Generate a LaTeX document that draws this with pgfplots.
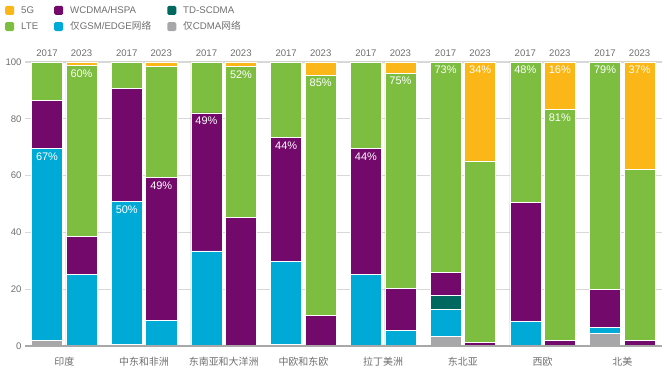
\documentclass[border=0pt]{standalone}
\usepackage{fontspec}
\setmainfont{Liberation Sans}
\newfontfamily\cjk{Noto Sans CJK SC}
\usepackage{pgfplots}
\pgfplotsset{compat=1.18}
\usepackage{pgfplotstable}

\definecolor{c5g}{HTML}{FBB718}
\definecolor{clte}{HTML}{7DBE41}
\definecolor{cwcdma}{HTML}{730A6B}
\definecolor{ctd}{HTML}{00695F}
\definecolor{cgsm}{HTML}{00AAD6}
\definecolor{ccdma}{HTML}{A7A7A9}
\definecolor{txt}{HTML}{6E6E6E}
\definecolor{gridc}{HTML}{D8D8D8}
\definecolor{axl}{HTML}{A8A8A8}

\tikzset{pl/.style={anchor=north, yshift=-4bp, inner sep=0pt, text=white, font=\fontsize{11}{13}\selectfont},
  yl/.style={anchor=base, yshift=5.3bp, inner sep=0pt, text=txt, font=\fontsize{9.6}{11}\selectfont}}

\pgfplotstableread{
x      cdma gsm  td  wcdma lte  g5
-0.5   2.0  67.5 0   17.0  13.5 0
0.5    0    25.3 0   13.2  60.3 1.2
1.81   0.7  50.1 0   39.8  9.4  0
2.81   0.3  8.8  0   50.2  39.2 1.5
4.12   0    33.5 0   48.6  17.9 0
5.12   0    0    0   45.3  53.2 1.5
6.43   0.7  29.0 0   43.7  26.6 0
7.43   0.2  0    0   10.6  84.6 4.6
8.74   0    25.2 0   44.3  30.5 0
9.74   0    5.6  0   14.7  75.8 3.9
11.05  3.5  9.5  4.8 8.2   74.0 0
12.05  0    0    0   1.4   63.8 34.8
13.36  0    8.8  0   41.7  49.5 0
14.36  0    0    0   2.0   81.2 16.8
15.67  4.5  2.1  0   13.4  80.0 0
16.67  0    0    0   2.1   60.0 37.9
}\data

\begin{document}
\begin{tikzpicture}
\begin{axis}[
  scale only axis, width=637bp, height=284bp,
  xmin=-1.138, xmax=17.32, ymin=0, ymax=100,
  ybar stacked, bar width=0.9,
  axis x line=bottom, axis y line=left,
  x axis line style={draw=none},
  y axis line style={draw=none},
  major tick length=0pt,
  ymajorgrids, grid style={draw=gridc, line width=1.3bp},
  ytick={0,20,40,60,80,100},
  yticklabel style={font=\fontsize{9.6}{11}\selectfont, text=txt},
  /pgf/number format/assume math mode=true,
  xtick={0,2.31,4.62,6.93,9.24,11.55,13.86,16.17},
  xticklabels={印度,中东和非洲,东南亚和大洋洲,中欧和东欧,拉丁美洲,东北亚,西欧,北美},
  xticklabel style={font=\cjk\fontsize{10}{12}\selectfont, text=txt, anchor=center, yshift=-16bp},
  legend columns=3,
  legend image code/.code={\fill[#1, draw=none, rounded corners=1.5bp] (0bp,-4.5bp) rectangle (9bp,4.5bp);
     \path[draw=none, fill=none] (0bp,0bp) -- (14bp,0bp);},
  legend style={at={(0,1)}, anchor=north west, xshift=-20bp, yshift=58bp,
    draw=none, fill=none, inner sep=0pt, row sep=3bp,
    font=\fontsize{9.7}{11}\selectfont, text=txt,
    /tikz/every even column/.append style={column sep=14bp},
    cells={anchor=west}},
  clip=false,
]
\addlegendimage{fill=c5g}\addlegendentry{5G}
\addlegendimage{fill=cwcdma}\addlegendentry{WCDMA/HSPA}
\addlegendimage{fill=ctd}\addlegendentry{TD-SCDMA}
\addlegendimage{fill=clte}\addlegendentry{LTE}
\addlegendimage{fill=cgsm}\addlegendentry{{\cjk 仅}GSM/EDGE{\cjk 网络}}
\addlegendimage{fill=ccdma}\addlegendentry{{\cjk 仅}CDMA{\cjk 网络}}

\addplot[fill=ccdma, draw=white, line width=0.5bp, forget plot] table[x=x,y=cdma]{\data};
\addplot[fill=cgsm, draw=white, line width=0.5bp, forget plot] table[x=x,y=gsm]{\data};
\addplot[fill=ctd, draw=white, line width=0.5bp, forget plot] table[x=x,y=td]{\data};
\addplot[fill=cwcdma, draw=white, line width=0.5bp, forget plot] table[x=x,y=wcdma]{\data};
\addplot[fill=clte, draw=white, line width=0.5bp, forget plot] table[x=x,y=lte]{\data};
\addplot[fill=c5g, draw=white, line width=0.5bp, forget plot] table[x=x,y=g5]{\data};

\coordinate (y1) at (axis cs:-0.5,100);
\coordinate (y2) at (axis cs:1.81,100);
\coordinate (y3) at (axis cs:4.12,100);
\coordinate (y4) at (axis cs:6.43,100);
\coordinate (y5) at (axis cs:8.74,100);
\coordinate (y6) at (axis cs:11.05,100);
\coordinate (y7) at (axis cs:13.36,100);
\coordinate (y8) at (axis cs:15.67,100);
\coordinate (z1) at (axis cs:0.5,100);
\coordinate (z2) at (axis cs:2.81,100);
\coordinate (z3) at (axis cs:5.12,100);
\coordinate (z4) at (axis cs:7.43,100);
\coordinate (z5) at (axis cs:9.74,100);
\coordinate (z6) at (axis cs:12.05,100);
\coordinate (z7) at (axis cs:14.36,100);
\coordinate (z8) at (axis cs:16.67,100);
\coordinate (p1) at (axis cs:-0.5,69.5);
\coordinate (p2) at (axis cs:0.5,98.8);
\coordinate (p3) at (axis cs:1.81,50.8);
\coordinate (p4) at (axis cs:2.81,59.3);
\coordinate (p5) at (axis cs:4.12,82.1);
\coordinate (p6) at (axis cs:5.12,98.5);
\coordinate (p7) at (axis cs:6.43,73.4);
\coordinate (p8) at (axis cs:7.43,95.4);
\coordinate (p9) at (axis cs:8.74,69.5);
\coordinate (p10) at (axis cs:9.74,96.1);
\coordinate (p11) at (axis cs:11.05,100);
\coordinate (p12) at (axis cs:12.05,100);
\coordinate (p13) at (axis cs:13.36,100);
\coordinate (p14) at (axis cs:14.36,100);
\coordinate (p15) at (axis cs:14.36,83.2);
\coordinate (p16) at (axis cs:15.67,100);
\coordinate (p17) at (axis cs:16.67,100);
\coordinate (bl) at (rel axis cs:0,0);
\coordinate (br) at (rel axis cs:1,0);
\coordinate (tr) at (rel axis cs:1,1);
\end{axis}
\draw[axl, line width=1.3bp] (bl) -- (br);
\foreach \i in {1,...,8} {\node[yl] at (y\i) {2017}; \node[yl] at (z\i) {2023};}
\node[pl] at (p1) {67\%};
\node[pl] at (p2) {60\%};
\node[pl] at (p3) {50\%};
\node[pl] at (p4) {49\%};
\node[pl] at (p5) {49\%};
\node[pl] at (p6) {52\%};
\node[pl] at (p7) {44\%};
\node[pl] at (p8) {85\%};
\node[pl] at (p9) {44\%};
\node[pl] at (p10) {75\%};
\node[pl] at (p11) {73\%};
\node[pl] at (p12) {34\%};
\node[pl] at (p13) {48\%};
\node[pl] at (p14) {16\%};
\node[pl] at (p15) {81\%};
\node[pl] at (p16) {79\%};
\node[pl] at (p17) {37\%};
\pgfresetboundingbox
\path ([xshift=-25bp,yshift=-28bp]bl) rectangle ([xshift=5bp,yshift=62bp]tr);
\end{tikzpicture}
\end{document}
